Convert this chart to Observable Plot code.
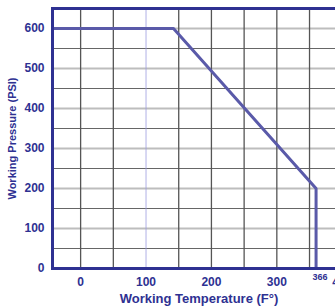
<!DOCTYPE html>
<html>
<head>
<meta charset="utf-8">
<script src="https://cdn.jsdelivr.net/npm/d3@7"></script>
<script src="https://cdn.jsdelivr.net/npm/@observablehq/plot@0.6"></script>
<style>
  html, body { margin: 0; padding: 0; background: #fff; overflow: hidden; width: 335px; height: 308px; }
  #chart svg { max-width: none !important; }
</style>
</head>
<body>
<div id="chart"></div>
<script>
// Data
const temps = [-43, 142, 360, 360];
const pressures = [600, 600, 200, 0];
const xTicks = [0, 100, 200, 300, 400];
const specialTick = [366];
const yTicks = [0, 100, 200, 300, 400, 500, 600];
const gridXDark = [0, 50, 150, 200, 250, 300, 350, 400];
const gridXLight = [100];
const gridYMajor = [100, 200, 300, 400, 500, 600];
const gridYMinor = [50, 150, 250, 350, 450, 550];

const navy = "#2e3192";
const lineColor = "#5a5aa9";
const font = "'Liberation Sans Narrow', 'Arial Narrow', 'Liberation Sans', sans-serif";

const curve = temps.map((t, i) => ({t, p: pressures[i]}));

const chart = Plot.plot({
  width: 350,
  height: 308,
  marginLeft: 52,
  marginTop: 8,
  marginBottom: 40,
  marginRight: 5,
  style: {fontFamily: font, fontSize: "12px", fontWeight: "bold", color: navy, background: "#fff", maxWidth: "none"},
  x: {domain: [-43, 405]},
  y: {domain: [0, 650]},
  marks: [
    Plot.ruleY(gridYMajor, {stroke: "#bdbdbd", strokeWidth: 2}),
    Plot.ruleY(gridYMinor, {stroke: "#666", strokeWidth: 1.2}),
    Plot.ruleX(gridXDark, {stroke: "#555", strokeWidth: 1.3}),
    Plot.ruleX(gridXLight, {stroke: "#9c9ce0", strokeWidth: 0.8}),
    Plot.line(curve, {x: "t", y: "p", stroke: lineColor, strokeWidth: 3, strokeLinejoin: "miter"}),
    Plot.frame({stroke: navy, strokeWidth: 3}),
    Plot.axisY(yTicks, {tickSize: 0, tickPadding: 8, label: "Working Pressure (PSI)", labelAnchor: "center", labelArrow: "none", labelOffset: 44, fontSize: 12}),
    Plot.axisX(xTicks, {tickSize: 0, tickPadding: 9, label: "Working Temperature (F°)", labelAnchor: "center", labelArrow: "none", labelOffset: 34}),
    Plot.text(specialTick, {x: d => d, y: 0, text: d => String(d), dy: 9, fontSize: 9, fill: navy})
  ]
});
chart.style.maxWidth = "none";
chart.querySelectorAll("g[aria-label='y-axis label'] text").forEach(t => t.setAttribute("font-size", "11"));
chart.querySelectorAll("g[aria-label='x-axis label'] text").forEach(t => t.setAttribute("font-size", "13"));
document.getElementById("chart").appendChild(chart);
</script>
</body>
</html>
